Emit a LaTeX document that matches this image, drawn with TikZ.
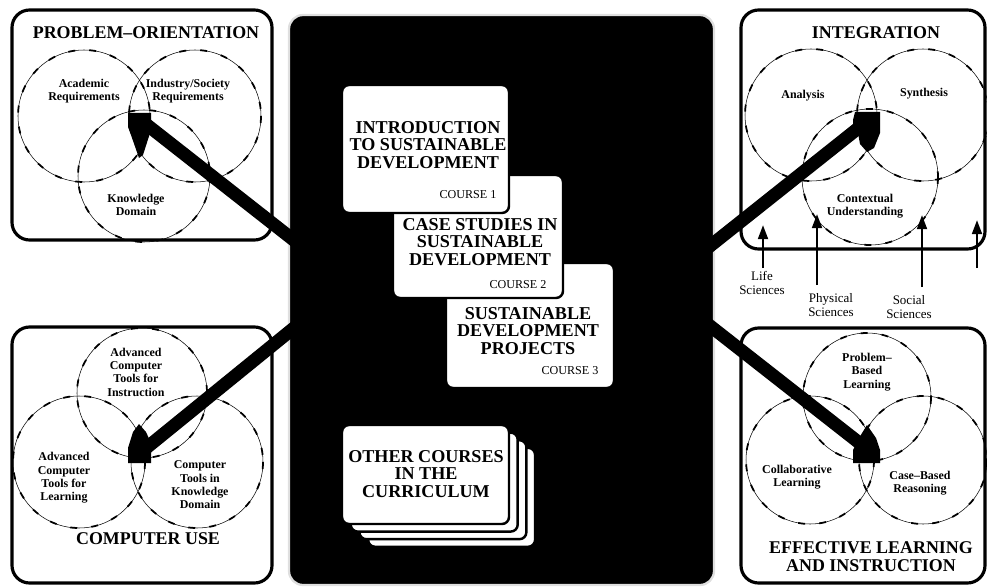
\documentclass[tikz,border=0pt]{standalone}
\usepackage{fontspec}
\setmainfont{Liberation Serif}
\usetikzlibrary{arrows.meta}

\tikzset{
  framebox/.style={line width=1.8pt, rounded corners=10pt},
  venn/.style={line width=0.3pt, postaction={draw, line width=1pt, dash pattern=on 4pt off 8pt}},
  lbl/.style={font=\fontsize{6.8}{7.6}\selectfont\bfseries, align=center, inner sep=0pt},
  ttl/.style={font=\fontsize{10.2}{10.2}\selectfont\bfseries, align=center, inner sep=0pt},
  sci/.style={font=\fontsize{7.4}{8.4}\selectfont, align=center, inner sep=0pt},
  card/.style={fill=white, draw=black, line width=1.4pt, rounded corners=4pt},
  ctitle/.style={font=\fontsize{10.3}{9.9}\selectfont\bfseries, align=center, inner sep=0pt},
  cnum/.style={font=\fontsize{6.9}{7}\selectfont, inner sep=0pt},
  link/.style={line width=7.4pt},
  sciarrow/.style={line width=1.5pt, -{Triangle[length=8pt,width=5.5pt]}}
}

\begin{document}
\begin{tikzpicture}[x=0.02cm, y=-0.02cm]
\useasboundingbox (0,0) rectangle (987,588);
% the four corner frames
\draw[framebox] (12,10) rectangle (272,240);
\draw[framebox] (12,327) rectangle (272,583);
\draw[framebox] (741,10) rectangle (985,249);
\draw[framebox] (741,328) rectangle (985,583);

% venn circles
\foreach \x/\y/\r in {84/116/66, 195/116/66, 144/176/66,
                      142/393/65, 79/462/66, 197/462/66,
                      811/115/66, 923/115/66, 870/177/68,
                      867/397/64, 810/460/64, 923/460/64}
    \draw[venn] (\x,\y) circle (\r);

% central panel
\draw[fill=black, draw=gray!25, line width=1.3pt, rounded corners=8pt] (289,15) rectangle (714,585);

% links from the panel to the hubs
\coordinate (poHub) at (142,121);
\coordinate (cuHub) at (145,449);
\coordinate (inHub) at (866,122);
\coordinate (elHub) at (862,445);
\coordinate (poEnd) at (300,245);
\coordinate (cuEnd) at (300,323);
\coordinate (inEnd) at (700,254);
\coordinate (elEnd) at (700,318);
\draw[link] (poEnd) -- (poHub);
\draw[link] (cuEnd) -- (cuHub);
\draw[link] (inEnd) -- (inHub);
\draw[link] (elEnd) -- (elHub);
\fill (128,113) -- (151,113) -- (151,130) -- (143,155) -- (139,158) -- (131,135) -- (128,127) -- cycle;
\fill (128,463) -- (151,463) -- (151,443) -- (146,432) -- (139,424) -- (133,432) -- (128,448) -- cycle;
\fill (855,112) -- (880,112) -- (880,133) -- (874,148) -- (867,152) -- (860,144) -- (858,133) -- (853,131) -- (853,120) -- cycle;
\fill (853,463) -- (880,463) -- (880,450) -- (876,438) -- (867,425) -- (859,438) -- (853,450) -- cycle;

% course cards
\draw[card] (446,263) rectangle (614,388);
\draw[card] (393,175) rectangle (563,298);
\draw[card] (342,85) rectangle (509,213);
\foreach \d in {3,2,1}
    \draw[card] (342+8.7*\d,425+7.6*\d) rectangle (509+8.7*\d,524+7.6*\d);
\draw[card] (342,425) rectangle (509,524);

\node[ctitle] (c1) at (428,145) {INTRODUCTION\\TO SUSTAINABLE\\DEVELOPMENT};
\node[cnum] (n1) at (468,195) {COURSE 1};
\node[ctitle] (c2) at (480,242) {CASE STUDIES IN\\SUSTAINABLE\\DEVELOPMENT};
\node[cnum] (n2) at (518,285) {COURSE 2};
\node[ctitle] (c3) at (528,331) {SUSTAINABLE\\DEVELOPMENT\\PROJECTS};
\node[cnum] (n3) at (570,371) {COURSE 3};
\node[ctitle] (other) at (426,474) {OTHER COURSES\\IN THE\\CURRICULUM};

% problem orientation
\node[ttl] (poTitle) at (146,33) {PROBLEM--ORIENTATION};
\node[lbl] (acad) at (84,91) {Academic\\Requirements};
\node[lbl] (indus) at (188,91) {Industry/Society\\Requirements};
\node[lbl] (know) at (136,205) {Knowledge\\Domain};

% computer use
\node[lbl] (instr) at (136,372) {Advanced\\Computer\\Tools for\\Instruction};
\node[lbl] (learn) at (64,478) {Advanced\\Computer\\Tools for\\Learning};
\node[lbl] (tools) at (200,485) {Computer\\Tools in\\Knowledge\\Domain};
\node[ttl] (cuTitle) at (148,539) {COMPUTER USE};

% integration
\node[ttl] (inTitle) at (876,33) {INTEGRATION};
\node[lbl] (anal) at (803,96) {Analysis};
\node[lbl] (synth) at (924,94) {Synthesis};
\node[lbl] (ctx) at (865,206) {Contextual\\Understanding};
\node[sci] (life) at (762,283) {Life\\Sciences};
\node[sci] (phys) at (831,305) {Physical\\Sciences};
\node[sci] (soc) at (909,307) {Social\\Sciences};
\foreach \n/\x/\a/\b in {life/763/268/225, phys/817/285/214, soc/922/287/215, more/977/268/220} {
    \coordinate (\n0) at (\x,\a);
    \coordinate (\n1) at (\x,\b);
    \draw[sciarrow] (\n0) -- (\n1);
}

% effective learning
\node[lbl] (pbl) at (867,372) {Problem--\\Based\\Learning};
\node[lbl] (collab) at (797,477) {Collaborative\\Learning};
\node[lbl] (cbr) at (920,483) {Case--Based\\Reasoning};
\node[ttl] (elTitle) at (871,557) {EFFECTIVE LEARNING\\AND INSTRUCTION};
\end{tikzpicture}
\end{document}
